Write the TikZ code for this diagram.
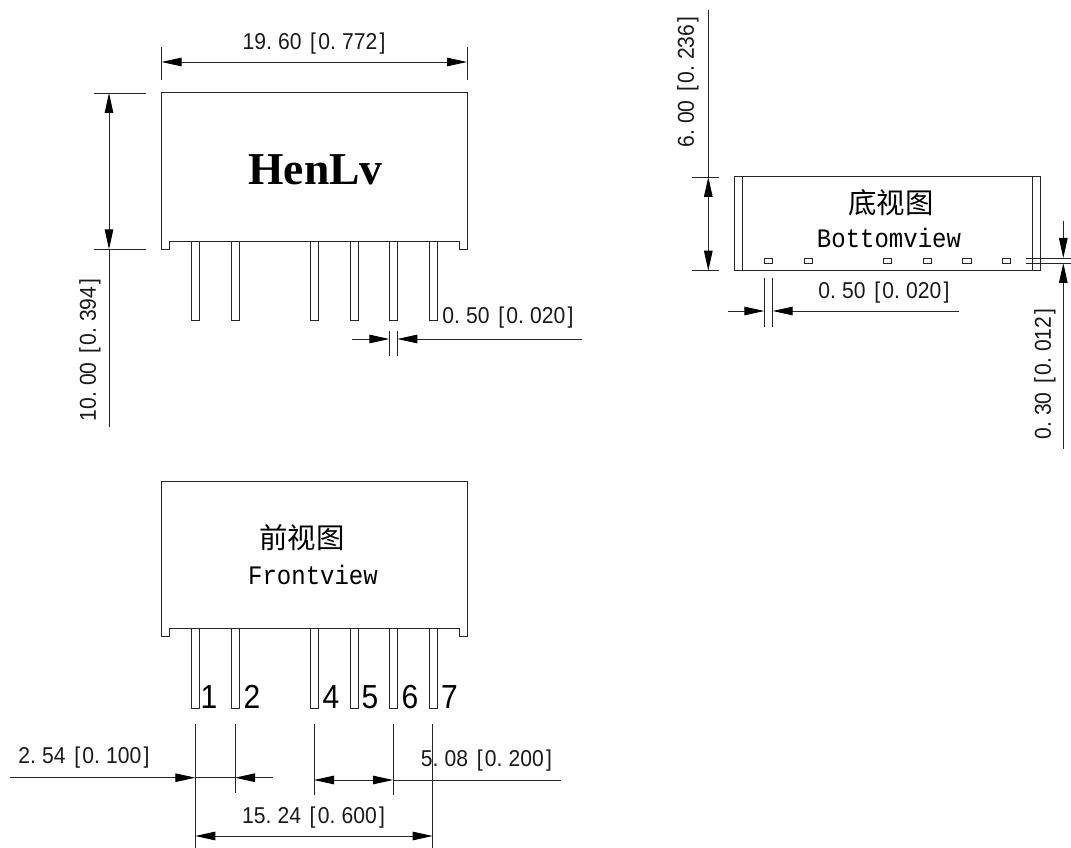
\documentclass[tikz,border=0pt]{standalone}
\usepackage{fontspec}
\usetikzlibrary{arrows.meta}
\setmainfont{Liberation Sans}
\newfontfamily\dimfont[FakeStretch=0.92]{Liberation Sans}
\newfontfamily\monofont[FakeStretch=0.9]{Liberation Mono}
\newfontfamily\cjkfont{Noto Sans CJK SC}
\newfontfamily\serifbold{Liberation Serif}[BoldFont={Liberation Serif Bold}]
\newfontfamily\pinfont[FakeStretch=0.9]{Liberation Sans}
\newcommand\pd{.\kern.27em}
\newcommand\lb{\kern.12em[\kern.1em}
\newcommand\rb{\kern.1em]}
\tikzset{
  part/.style={draw=black!85,line width=.75pt,line join=miter},
  pinbox/.style={draw=black!85,line width=.75pt},
  dimline/.style={draw=black!85,line width=.7pt},
  tipend/.style={-{Triangle[length=15pt,width=6.4pt,black]}},
  tipboth/.style={{Triangle[length=15pt,width=6.4pt,black]}-{Triangle[length=15pt,width=6.4pt,black]}},
  dimtext/.style={font=\dimfont\fontsize{17.2}{17.2}\selectfont,inner sep=0pt,text=black!90},
  viewtext/.style={font=\monofont\fontsize{20}{20}\selectfont,inner sep=0pt,text=black},
  cjktext/.style={font=\cjkfont\fontsize{21.3}{21.3}\selectfont,inner sep=0pt,text=black},
  pinno/.style={font=\pinfont\fontsize{25}{25}\selectfont,inner sep=0pt,text=black},
}
\begin{document}
\begin{tikzpicture}[x=.75pt,y=-.75pt]
\useasboundingbox[fill=white] (0,0) rectangle (1071,848);

% top view body and pins
\draw[part] (161.5,249.3) -- (161.5,93) -- (467,93) -- (467,249.3) -- (459.3,249.3) -- (459.3,241.5) -- (169.3,241.5) -- (169.3,249.3) -- cycle;
\foreach \a/\b in {191.7/199.7,231/239.3,310.5/318.5,350/358,389.3/397.3,429/437}
  \draw[pinbox] (\a,241.5) rectangle (\b,321);
\node[font=\serifbold\bfseries\fontsize{34.2}{34.2}\selectfont,inner sep=0pt] (brand) at (315.5,170) {HenLv};

% top view dimensions
\draw[dimline] (161.5,47) -- (161.5,80);
\draw[dimline] (467,47) -- (467,80);
\draw[dimline,tipboth] (161.5,62) -- (467,62);
\node[dimtext] (w) at (314,44) {19\pd60 \lb0\pd772\rb};
\draw[dimline] (94,93) -- (146,93);
\draw[dimline] (94,249.3) -- (146,249.3);
\draw[dimline,tipboth] (109,93) -- (109,249.3);
\draw[dimline] (109,249.3) -- (109,427);
\node[dimtext,rotate=90] (h) at (90,350) {10\pd00 \lb0\pd394\rb};
\draw[dimline] (389.3,331) -- (389.3,356);
\draw[dimline] (397.3,331) -- (397.3,356);
\draw[dimline,tipend] (352,339) -- (389.3,339);
\draw[dimline,tipend] (582,339) -- (397.3,339);
\node[dimtext] (pw) at (508,318) {0\pd50 \lb0\pd020\rb};

% bottom view
\draw[part] (734.3,177) rectangle (1040.3,270.7);
\draw[part] (742.3,177) -- (742.3,270.7);
\draw[part] (1032.3,177) -- (1032.3,270.7);
\foreach \a in {764.3,804.3,883.3,923,962.7,1002.3}
  \draw[pinbox,line width=.6pt] (\a,258) rectangle ++(8.4,5.3);
\node[cjktext] (bcn) at (891,203) {底视图};
\node[viewtext] (ben) at (889,238) {Bottomview};
\draw[dimline] (692.3,177) -- (719,177);
\draw[dimline] (692.3,270.7) -- (719,270.7);
\draw[dimline] (708.3,10) -- (708.3,177);
\draw[dimline,tipboth] (708.3,177) -- (708.3,270.7);
\node[dimtext,rotate=90] (bh) at (688,82) {6\pd00 \lb0\pd236\rb};
\draw[dimline] (764.3,278) -- (764.3,326.7);
\draw[dimline] (772.7,278) -- (772.7,326.7);
\draw[dimline,tipend] (727.7,311) -- (764.3,311);
\draw[dimline,tipend] (958.7,311) -- (772.7,311);
\node[dimtext] (bw) at (884,292.7) {0\pd50 \lb0\pd020\rb};
\draw[dimline] (1026,258) -- (1071,258);
\draw[dimline] (1026,263) -- (1071,263);
\draw[dimline,tipend] (1063.3,221) -- (1063.3,258);
\draw[dimline,tipend] (1063.3,449) -- (1063.3,263);
\node[dimtext,rotate=90] (bt) at (1045,374) {0\pd30 \lb0\pd012\rb};

% front view
\draw[part] (161.5,636.7) -- (161.5,481) -- (467,481) -- (467,636.7) -- (459.3,636.7) -- (459.3,628.5) -- (169.3,628.5) -- (169.3,636.7) -- cycle;
\foreach \a/\b in {191.6/199.6,231.3/239.3,310.7/318.5,350/358,389.6/397.5,429/437}
  \draw[pinbox] (\a,628.5) rectangle (\b,708.3);
\node[cjktext] (fcn) at (302,538) {前视图};
\node[viewtext] (fen) at (313,575) {Frontview};
\foreach \n/\t/\x in {p1/1/209,p2/2/252,p4/4/331,p5/5/370,p6/6/410,p7/7/449.5}
  \node[pinno] (\n) at (\x,697) {\t};

% front view dimensions
\draw[dimline] (195.3,724) -- (195.3,848);
\draw[dimline] (235,724) -- (235,793);
\draw[dimline] (314,724) -- (314,795);
\draw[dimline] (393,724) -- (393,795);
\draw[dimline] (432.7,724) -- (432.7,848);
\draw[dimline,tipend] (10,777.7) -- (195.3,777.7);
\draw[dimline] (195.3,777.7) -- (235,777.7);
\draw[dimline,tipend] (272.7,777.7) -- (235,777.7);
\node[dimtext] (d1) at (84,758) {2\pd54 \lb0\pd100\rb};
\draw[dimline,tipboth] (314,780) -- (393,780);
\draw[dimline] (393,780) -- (561,780);
\node[dimtext] (d2) at (486.5,761) {5\pd08 \lb0\pd200\rb};
\draw[dimline,tipboth] (195.3,836) -- (432.7,836);
\node[dimtext] (d3) at (313.5,818) {15\pd24 \lb0\pd600\rb};
\end{tikzpicture}
\end{document}
